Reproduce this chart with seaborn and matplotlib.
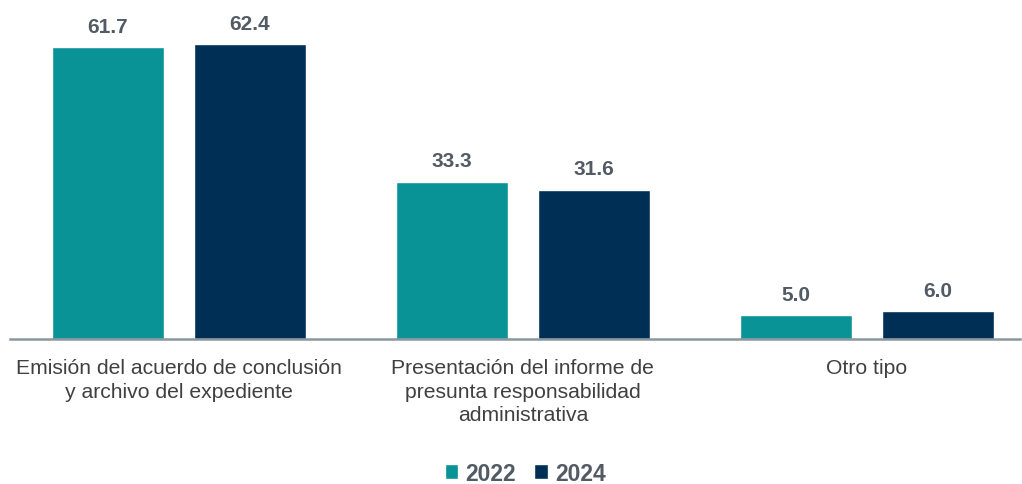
import matplotlib
matplotlib.use('Agg')
import matplotlib.pyplot as plt
import pandas as pd
import seaborn as sns

categories = ['Emisión del acuerdo de conclusión\ny archivo del expediente',
              'Presentación del informe de\npresunta responsabilidad\nadministrativa',
              'Otro tipo']
years = ['2022', '2024']
values_2022 = [61.7, 33.3, 5.0]
values_2024 = [62.4, 31.6, 6.0]

teal = '#0A9396'
navy = '#002F56'
text_grey = '#525A63'

df = pd.DataFrame({
    'categoria': categories * 2,
    'anio': [years[0]] * 3 + [years[1]] * 3,
    'valor': values_2022 + values_2024,
})

sns.set_style('white')
plt.rcParams['font.family'] = ['Liberation Sans', 'DejaVu Sans']

fig = plt.figure(figsize=(10.22, 4.85), dpi=100)
ax = fig.add_axes([10 / 1022, 145 / 485, 1010 / 1022, 331 / 485])

sns.barplot(data=df, x='categoria', y='valor', hue='anio', order=categories,
            hue_order=years, palette=[teal, navy], width=0.826, gap=0.21,
            saturation=1, ax=ax, legend=True)

for cont in ax.containers:
    ax.bar_label(cont, fmt='%.1f', padding=8, fontsize=15, fontweight='bold',
                 color=text_grey)

ax.set_xlim(-0.491, 2.445)
ax.set_ylim(0, 70)
ax.set_yticks([])
ax.set_xlabel('')
ax.set_ylabel('')
for s in ['top', 'right', 'left']:
    ax.spines[s].set_visible(False)
ax.spines['bottom'].set_color('#8A97A0')
ax.spines['bottom'].set_linewidth(1.8)
ax.tick_params(axis='x', length=0, pad=14, labelsize=15.2, labelcolor='#404040')
for lbl in ax.get_xticklabels():
    lbl.set_linespacing(1.3)

ax.legend(loc='center', bbox_to_anchor=(0.51, -0.405), ncol=2, frameon=False,
          handlelength=0.6, handleheight=0.6, handletextpad=0.3, columnspacing=0.8,
          prop={'weight': 'bold', 'size': 16.5})
for t in ax.get_legend().get_texts():
    t.set_color(text_grey)

fig.savefig('out.png', dpi=100)
